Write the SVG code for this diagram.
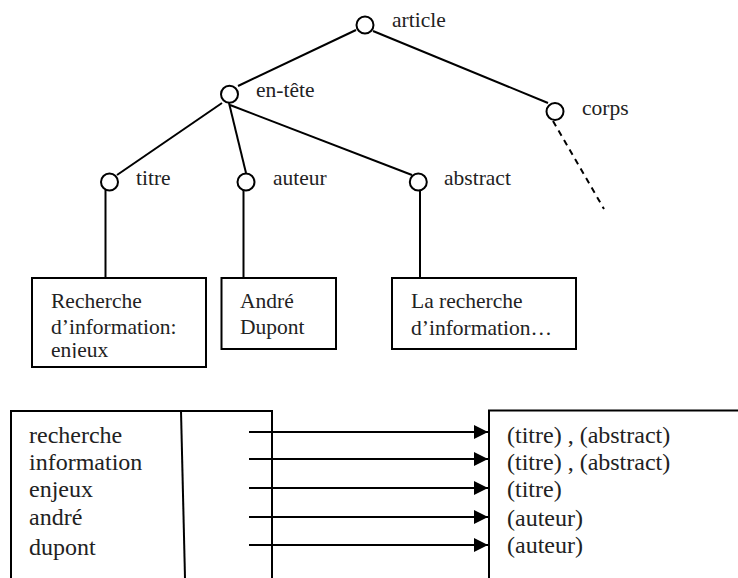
<svg xmlns="http://www.w3.org/2000/svg" width="738" height="578" viewBox="0 0 738 578">
<style>
.ln{stroke:#000;stroke-width:2;fill:none}
.nd{stroke:#000;stroke-width:2;fill:#fff}
.bx{stroke:#000;stroke-width:2;fill:#fff}
text{font-family:'Liberation Serif','Times New Roman','DejaVu Serif','Noto Serif',serif;fill:#222}
.t{font-size:21.5px}
.tb{font-size:24px}
</style>
<defs>
<marker id="ah" viewBox="0 0 14 14" refX="14" refY="7" markerWidth="14" markerHeight="14" markerUnits="userSpaceOnUse" orient="auto">
<path d="M0,0 L14,7 L0,14 Z" fill="#000"/>
</marker>
<clipPath id="c1"><rect x="32" y="278" width="174" height="80"/></clipPath>
</defs>
<rect width="738" height="578" fill="#fff"/>
<g id="connectors">
<line class="ln" x1="356" y1="30" x2="238" y2="86"/>
<line class="ln" x1="373" y1="31" x2="548" y2="103"/>
<line class="ln" x1="222" y1="103" x2="117" y2="175"/>
<line class="ln" x1="229" y1="103" x2="246" y2="173"/>
<line class="ln" x1="230" y1="105" x2="412" y2="175"/>
<line class="ln" x1="553" y1="121" x2="604" y2="209" stroke-dasharray="6,5"/>
<line class="ln" x1="105.5" y1="190" x2="105.5" y2="278"/>
<line class="ln" x1="243.5" y1="190" x2="243.5" y2="278"/>
<line class="ln" x1="420" y1="191" x2="420" y2="278"/>
</g>
<g id="article"><circle class="nd" cx="365" cy="25" r="8.5"/><text class="t" x="392" y="27" font-family="Liberation Serif, serif">article</text></g>
<g id="en-tete"><circle class="nd" cx="229.5" cy="94.3" r="8.5"/><text class="t" x="256" y="97">en-tête</text></g>
<g id="corps"><circle class="nd" cx="555" cy="111.5" r="8.5"/><text class="t" x="582" y="115">corps</text></g>
<g id="titre"><circle class="nd" cx="109.5" cy="182" r="8.5"/><text class="t" x="136" y="185">titre</text></g>
<g id="auteur"><circle class="nd" cx="246" cy="182" r="8.5"/><text class="t" x="273" y="185">auteur</text></g>
<g id="abstract"><circle class="nd" cx="418.3" cy="182" r="8.5"/><text class="t" x="444" y="184.5">abstract</text></g>
<g id="box-titre"><rect class="bx" x="32" y="278" width="174" height="89"/>
<text class="t" x="51" y="308">Recherche</text>
<text class="t" x="51" y="334">d’information:</text>
<text class="t" x="51" y="357" clip-path="url(#c1)">enjeux</text></g>
<g id="box-auteur"><rect class="bx" x="221.5" y="278" width="114.5" height="71"/>
<text class="t" x="240" y="308">André</text>
<text class="t" x="240" y="334">Dupont</text></g>
<g id="box-abstract"><rect class="bx" x="392" y="278" width="184" height="71"/>
<text class="t" x="411" y="308">La recherche</text>
<text class="t" x="411" y="335">d’information…</text></g>
<g id="index">
<path class="ln" d="M11,578 V411 H272 V578"/>
<line class="ln" x1="181" y1="411" x2="185" y2="578"/>
<text class="tb" x="29" y="442.5">recherche</text>
<text class="tb" x="29" y="470">information</text>
<text class="tb" x="29" y="497">enjeux</text>
<text class="tb" x="29" y="525">andré</text>
<text class="tb" x="29" y="555">dupont</text>
</g>
<g id="postings">
<path class="ln" d="M489,578 V410.5 H740"/>
<text class="tb" x="507" y="442.5">(titre) , (abstract)</text>
<text class="tb" x="507" y="470">(titre) , (abstract)</text>
<text class="tb" x="507" y="497">(titre)</text>
<text class="tb" x="507" y="526">(auteur)</text>
<text class="tb" x="507" y="553">(auteur)</text>
</g>
<g id="arrows">
<line class="ln" x1="249" y1="432" x2="488" y2="432" marker-end="url(#ah)"/>
<line class="ln" x1="249" y1="459" x2="488" y2="459" marker-end="url(#ah)"/>
<line class="ln" x1="249" y1="488" x2="488" y2="488" marker-end="url(#ah)"/>
<line class="ln" x1="249" y1="517" x2="488" y2="517" marker-end="url(#ah)"/>
<line class="ln" x1="249" y1="545" x2="488" y2="545" marker-end="url(#ah)"/>
</g>
</svg>
